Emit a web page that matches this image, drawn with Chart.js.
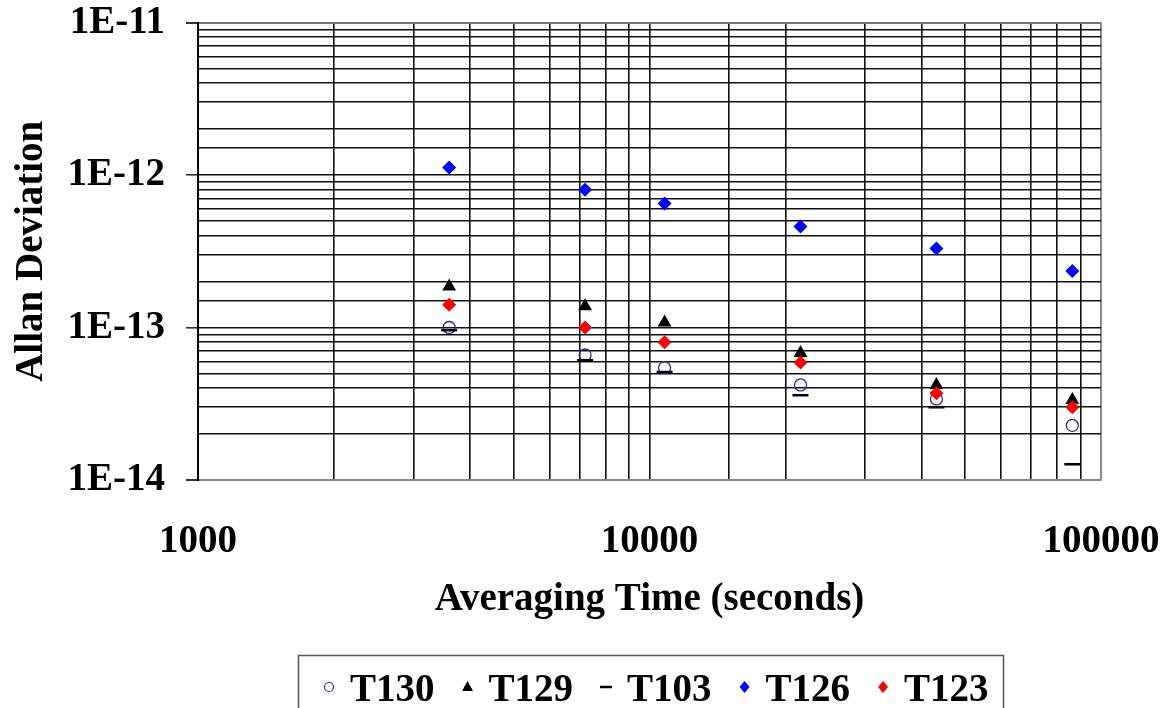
<!DOCTYPE html>
<html>
<head>
<meta charset="utf-8">
<script src="https://cdn.jsdelivr.net/npm/chart.js@4/dist/chart.umd.min.js"></script>
<style>
  html, body { margin: 0; padding: 0; background: #fff; }
  canvas { display: block; }
</style>
</head>
<body>
<canvas id="allan" width="1165" height="708"></canvas>
<script>
// averaging times (s) and Allan deviation per unit
const seconds = [3600, 7200, 10800, 21600, 43200, 86400];
const t130 = [1.0e-13, 6.6e-14, 5.45e-14, 4.2e-14, 3.4e-14, 2.28e-14];
const t129 = [1.86e-13, 1.38e-13, 1.08e-13, 6.8e-14, 4.2e-14, 3.35e-14];
const t103 = [9.6e-14, 6.1e-14, 5.1e-14, 3.6e-14, 3.0e-14, 1.27e-14];
const t126 = [1.12e-12, 8.0e-13, 6.5e-13, 4.6e-13, 3.3e-13, 2.35e-13];
const t123 = [1.41e-13, 1.0e-13, 8.0e-14, 5.9e-14, 3.7e-14, 3.0e-14];
const seriesNames = ['T130', 'T129', 'T103', 'T126', 'T123'];

const FONT = '"Liberation Serif", "Times New Roman", serif';
Chart.defaults.font.family = FONT;
Chart.defaults.font.weight = 'bold';
Chart.defaults.color = '#000';

function isDecade(v) {
  const l = Math.log10(v);
  return Math.abs(l - Math.round(l)) < 1e-6;
}
function pts(ys) {
  return seconds.map((x, i) => ({ x: x, y: ys[i] }));
}

// legend markers, drawn small like the original
function marker(ctx, style, x, y) {
  ctx.beginPath();
  if (style === 'circle') {
    ctx.strokeStyle = '#2a2aa0'; ctx.lineWidth = 1.2;
    ctx.arc(x, y, 4.5, 0, Math.PI * 2);
    ctx.stroke();
  } else if (style === 'triangle') {
    ctx.fillStyle = '#000';
    ctx.moveTo(x, y - 6); ctx.lineTo(x + 5.5, y + 4); ctx.lineTo(x - 5.5, y + 4);
    ctx.closePath(); ctx.fill();
  } else if (style === 'line') {
    ctx.strokeStyle = '#000'; ctx.lineWidth = 2.5;
    ctx.moveTo(x - 6, y); ctx.lineTo(x + 6, y);
    ctx.stroke();
  } else {
    ctx.fillStyle = style;
    ctx.moveTo(x, y - 6); ctx.lineTo(x + 5, y); ctx.lineTo(x, y + 6); ctx.lineTo(x - 5, y);
    ctx.closePath(); ctx.fill();
  }
}

const legendBox = {
  id: 'legendBox',
  afterDraw(chart) {
    const ctx = chart.ctx;
    const styles = ['circle', 'triangle', 'line', '#0000ff', '#ff0000'];
    ctx.save();
    ctx.strokeStyle = '#555';
    ctx.lineWidth = 1.5;
    ctx.strokeRect(298.5, 655.5, 705, 80);
    ctx.font = 'bold 39px ' + FONT;
    ctx.textBaseline = 'alphabetic';
    let x = 329;
    seriesNames.forEach((name, i) => {
      marker(ctx, styles[i], x, 687);
      const tx = x + 21;
      ctx.fillStyle = '#000';
      ctx.fillText(name, tx, 701);
      x = tx + ctx.measureText(name).width + 33;
    });
    ctx.restore();
  }
};

// outer edges of the plot are grey, inner grid lines near black
const edgeX = (c) => c.tick && c.tick.value >= 100000;
const edgeY = (c) => c.tick && isDecade(c.tick.value) && (c.tick.value < 2e-14 || c.tick.value > 5e-12);

new Chart(document.getElementById('allan'), {
  type: 'scatter',
  plugins: [legendBox],
  data: {
    datasets: [{
      label: seriesNames[0],
      data: pts(t130),
      pointStyle: 'circle',
      pointRadius: 6,
      pointBorderWidth: 1.3,
      borderColor: '#2a2aa0',
      backgroundColor: 'rgba(0,0,0,0)',
      order: 5
    }, {
      label: seriesNames[1],
      data: pts(t129),
      pointStyle: 'triangle',
      pointRadius: 8,
      pointBorderWidth: 0,
      borderColor: '#000',
      backgroundColor: '#000',
      order: 4
    }, {
      label: seriesNames[2],
      data: pts(t103),
      pointStyle: 'line',
      pointRadius: 8,
      pointBorderWidth: 2.5,
      borderColor: '#000',
      backgroundColor: '#000',
      order: 3
    }, {
      label: seriesNames[3],
      data: pts(t126),
      pointStyle: 'rectRot',
      pointRadius: 7,
      pointBorderWidth: 0,
      borderColor: '#0000ff',
      backgroundColor: '#0000ff',
      order: 2
    }, {
      label: seriesNames[4],
      data: pts(t123),
      pointStyle: 'rectRot',
      pointRadius: 7,
      pointBorderWidth: 0,
      borderColor: '#ff0000',
      backgroundColor: '#ff0000',
      order: 1
    }]
  },
  options: {
    responsive: false,
    animation: false,
    devicePixelRatio: 1,
    layout: { padding: { top: 22.5, right: 64, left: 0, bottom: 0 } },
    plugins: {
      legend: { display: false },
      tooltip: { enabled: false }
    },
    scales: {
      x: {
        type: 'logarithmic',
        min: 1000,
        max: 100000,
        afterFit: (s) => { s.height = 228; s.paddingLeft = 0; s.paddingRight = 0; },
        border: { display: true, color: '#888', width: 2 },
        grid: {
          color: (c) => (edgeX(c) ? '#888' : '#111'),
          lineWidth: (c) => (edgeX(c) ? 2 : 1.6),
          drawTicks: false
        },
        ticks: {
          autoSkip: false,
          maxRotation: 0,
          padding: 40,
          font: { size: 39, lineHeight: 1.1 },
          callback: (v) => (isDecade(v) ? String(Math.round(v)) : '')
        },
        title: {
          display: true,
          text: 'Averaging Time (seconds)',
          font: { size: 39, lineHeight: 1.2 },
          padding: { top: 0, bottom: 85 }
        }
      },
      y: {
        type: 'logarithmic',
        min: 1e-14,
        max: 1e-11,
        afterFit: (s) => { s.width = 198; s.paddingTop = 0; s.paddingBottom = 0; },
        border: { display: true, color: '#000', width: 2 },
        grid: {
          color: (c) => (edgeY(c) ? '#777' : '#111'),
          lineWidth: (c) => (edgeY(c) ? 2 : 1.6),
          tickLength: 12,
          tickColor: (c) => (c.tick && isDecade(c.tick.value) ? '#333' : 'rgba(0,0,0,0)')
        },
        ticks: {
          autoSkip: false,
          padding: 21,
          font: { size: 39, lineHeight: 1.1 },
          callback: (v) => (isDecade(v) ? '1E' + Math.round(Math.log10(v)) : '')
        },
        title: {
          display: true,
          text: 'Allan Deviation',
          font: { size: 39, lineHeight: 1.2 },
          padding: { top: 9, bottom: 0 }
        }
      }
    }
  }
});
</script>
</body>
</html>
